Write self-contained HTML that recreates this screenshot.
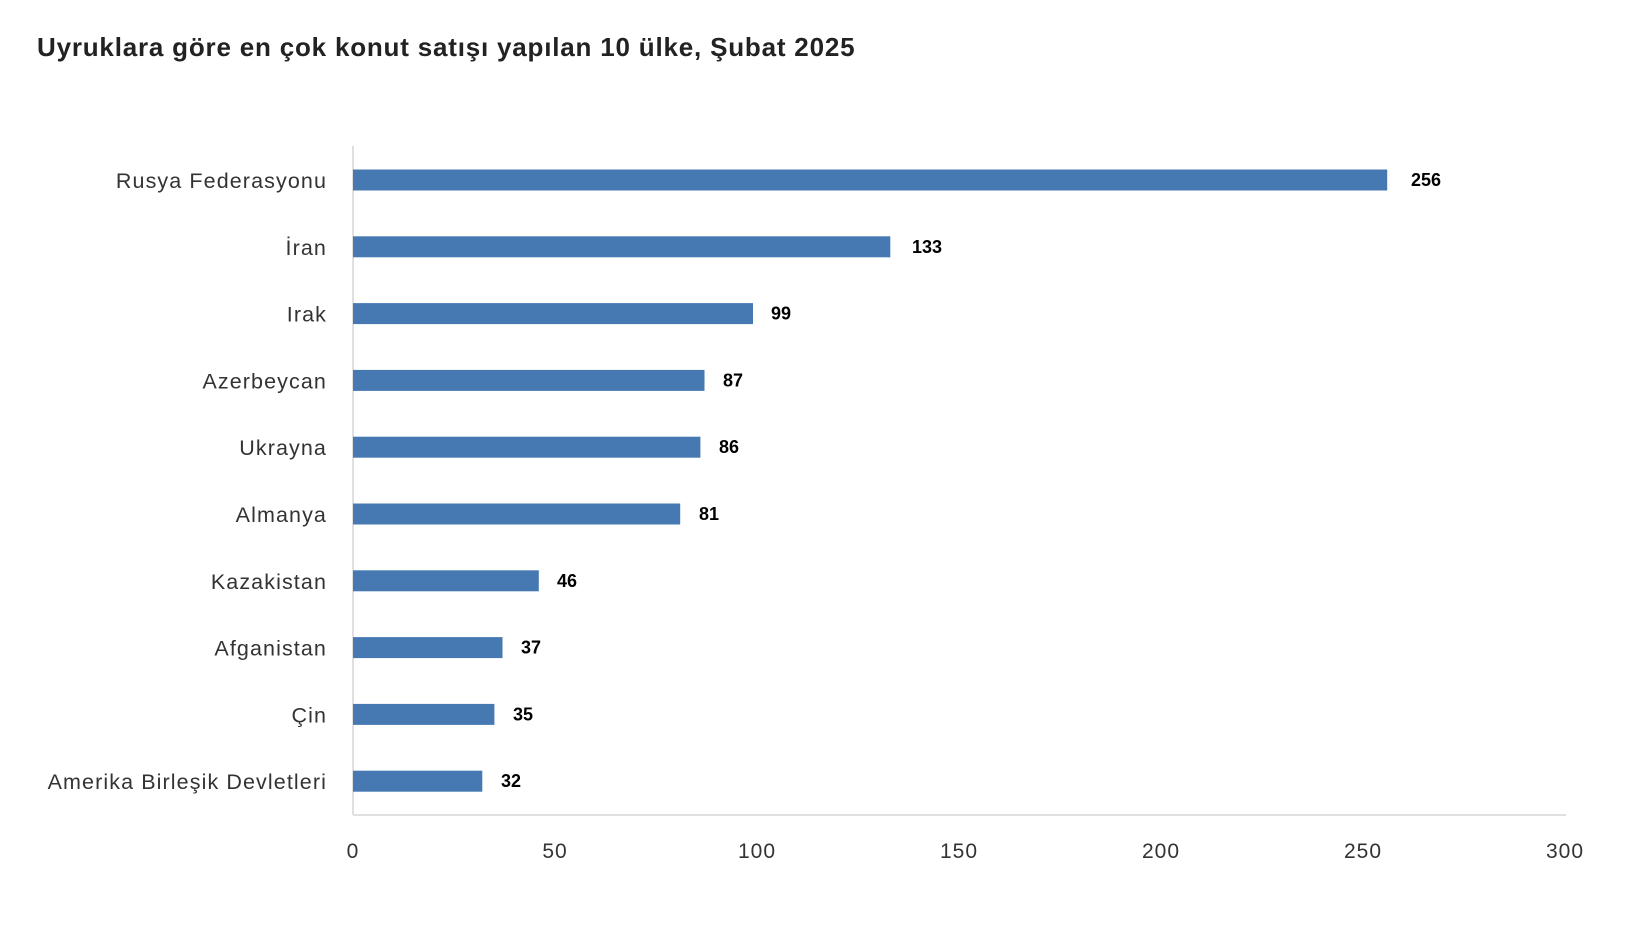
<!DOCTYPE html>
<html><head><meta charset="utf-8"><style>
body{margin:0;background:#fff;width:1638px;height:920px;overflow:hidden}
svg text{font-family:"Liberation Sans",sans-serif}
</style></head><body>
<svg width="1638" height="920" xmlns="http://www.w3.org/2000/svg">
<text x="37" y="56" font-size="26" font-weight="bold" fill="#222" letter-spacing="0.8">Uyruklara göre en çok konut satışı yapılan 10 ülke, Şubat 2025</text>
<line x1="353" y1="146" x2="353" y2="815" stroke="#e0e0e0" stroke-width="2"/>
<line x1="353" y1="815" x2="1566" y2="815" stroke="#e0e0e0" stroke-width="2"/>
<g font-size="21" fill="#333" text-anchor="middle" letter-spacing="1">
<text x="353" y="858">0</text><text x="555" y="858">50</text><text x="757" y="858">100</text><text x="959" y="858">150</text><text x="1161" y="858">200</text><text x="1363" y="858">250</text><text x="1565" y="858">300</text>
</g>
<g fill="#4679b2">
<rect x="353" y="169.5" width="1034.2" height="21"/>
<rect x="353" y="236.3" width="537.3" height="21"/>
<rect x="353" y="303.1" width="400" height="21"/>
<rect x="353" y="369.9" width="351.5" height="21"/>
<rect x="353" y="436.7" width="347.4" height="21"/>
<rect x="353" y="503.5" width="327.2" height="21"/>
<rect x="353" y="570.3" width="185.8" height="21"/>
<rect x="353" y="637.1" width="149.5" height="21"/>
<rect x="353" y="703.9" width="141.4" height="21"/>
<rect x="353" y="770.7" width="129.3" height="21"/>
</g>
<g font-size="21.5" fill="#333" text-anchor="end" letter-spacing="1.1">
<text x="327" y="188">Rusya Federasyonu</text>
<text x="327" y="254.8">İran</text>
<text x="327" y="321.6">Irak</text>
<text x="327" y="388.4">Azerbeycan</text>
<text x="327" y="455.2">Ukrayna</text>
<text x="327" y="522">Almanya</text>
<text x="327" y="588.8">Kazakistan</text>
<text x="327" y="655.6">Afganistan</text>
<text x="327" y="722.4">Çin</text>
<text x="327" y="789.2">Amerika Birleşik Devletleri</text>
</g>
<g font-size="18" font-weight="bold" fill="#000">
<text x="1411" y="186">256</text>
<text x="912" y="252.8">133</text>
<text x="771" y="319.6">99</text>
<text x="723" y="386.4">87</text>
<text x="719" y="453.2">86</text>
<text x="699" y="520">81</text>
<text x="557" y="586.8">46</text>
<text x="521" y="653.6">37</text>
<text x="513" y="720.4">35</text>
<text x="501" y="787.2">32</text>
</g>
</svg>
</body></html>
